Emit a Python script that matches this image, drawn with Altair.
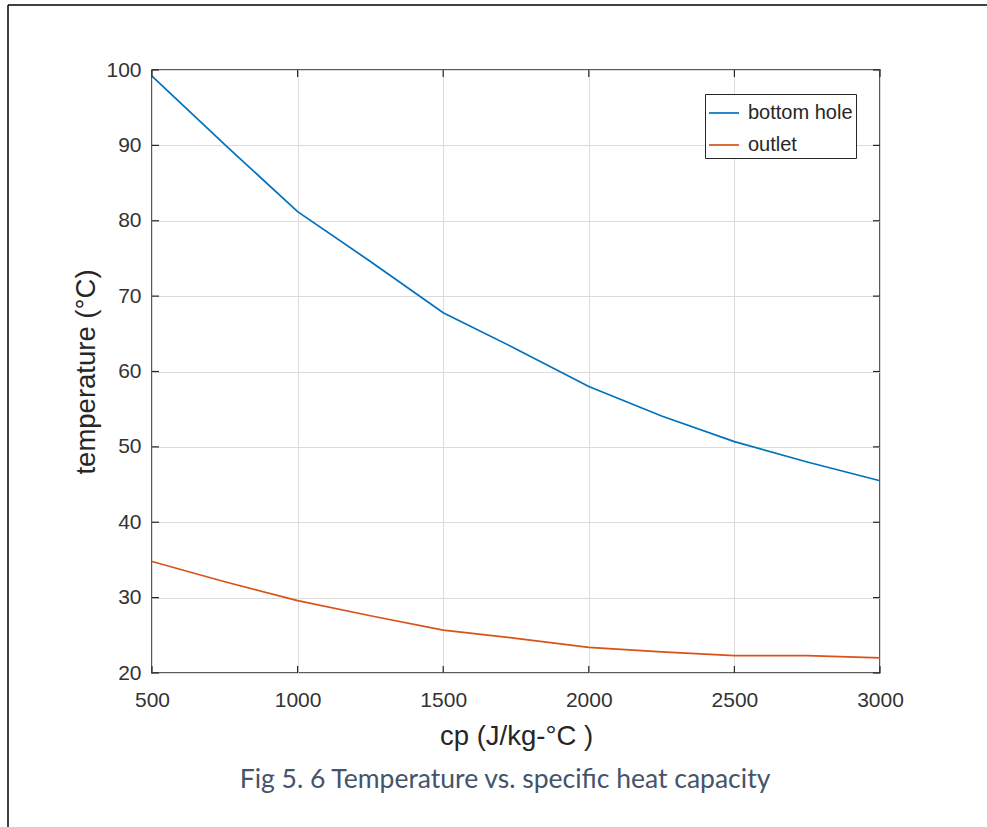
import altair as alt
import pandas as pd

# ---- data ----
cp = [500, 750, 1000, 1250, 1500, 1750, 2000, 2250, 2500, 2750, 3000]
bottom_hole = [99.2, 90.1, 81.2, 74.6, 67.8, 63.0, 58.0, 54.1, 50.7, 48.0, 45.5]
outlet = [34.8, 32.1, 29.6, 27.6, 25.7, 24.6, 23.4, 22.8, 22.3, 22.3, 22.0]
series_names = ["bottom hole", "outlet"]
series_colors = ["#0072BD", "#D95319"]
x_ticks = [500, 1000, 1500, 2000, 2500, 3000]
y_ticks = [20, 30, 40, 50, 60, 70, 80, 90, 100]
x_title = "cp (J/kg-°C )"
y_title = "temperature (°C)"
caption = "Fig 5. 6 Temperature vs. specific heat capacity"

W, H = 728, 603
AX = "#262626"
FONT = "Liberation Sans"

df = pd.DataFrame({
    "cp": cp * 2,
    "T": bottom_hole + outlet,
    "series": [series_names[0]] * len(cp) + [series_names[1]] * len(cp),
})
xt = pd.DataFrame({"cp": x_ticks})
yt = pd.DataFrame({"T": y_ticks})

xscale = alt.Scale(domain=[500, 3000], nice=False, zero=False)
yscale = alt.Scale(domain=[20, 100], nice=False, zero=False)
xaxis = alt.Axis(values=x_ticks, title=x_title, grid=True, tickSize=0, format="d",
                 labelFlush=False, labelPadding=16, titlePadding=12, domain=False)
yaxis = alt.Axis(values=y_ticks, title=y_title, grid=True, tickSize=0, format="d",
                 labelFlush=False, labelPadding=11, titlePadding=5, domain=False)
X = alt.X("cp:Q", scale=xscale, axis=xaxis)
Y = alt.Y("T:Q", scale=yscale, axis=yaxis)

lines = alt.Chart(df).mark_line(strokeWidth=1.7).encode(
    x=X, y=Y,
    color=alt.Color("series:N",
                    scale=alt.Scale(domain=series_names, range=series_colors),
                    legend=alt.Legend(title=None, orient="none", legendX=553, legendY=24,
                                      direction="vertical", strokeColor=AX, fillColor="white",
                                      padding=3, symbolType="stroke", symbolSize=900,
                                      symbolStrokeWidth=1.7, labelFontSize=20,
                                      labelFont=FONT, labelColor=AX, labelOffset=8,
                                      rowPadding=6)),
    order=alt.Order("cp:Q"),
)

tick_len = 7
xb = alt.Chart(xt).mark_rule(color=AX, strokeWidth=1.2).encode(
    x=X, y=alt.value(H), y2=alt.value(H - tick_len))
xtop = alt.Chart(xt).mark_rule(color=AX, strokeWidth=1.2).encode(
    x=X, y=alt.value(0), y2=alt.value(tick_len))
yl = alt.Chart(yt).mark_rule(color=AX, strokeWidth=1.2).encode(
    y=Y, x=alt.value(0), x2=alt.value(tick_len))
yr = alt.Chart(yt).mark_rule(color=AX, strokeWidth=1.2).encode(
    y=Y, x=alt.value(W), x2=alt.value(W - tick_len))

cap = alt.Chart(pd.DataFrame({"t": [caption]})).mark_text(
    font="Lato", fontSize=26.5, color="#44546A", align="center", baseline="middle"
).encode(text="t:N", x=alt.value(353), y=alt.value(710))

one = pd.DataFrame({"a": [0]})
border_l = alt.Chart(one).mark_rule(color="black", strokeWidth=1.5).encode(
    x=alt.value(-144), y=alt.value(-65), y2=alt.value(760))
border_t = alt.Chart(one).mark_rule(color="black", strokeWidth=1.5).encode(
    y=alt.value(-65), x=alt.value(-144), x2=alt.value(840))

chart = alt.layer(lines, xb, xtop, yl, yr, cap, border_l, border_t).properties(
    width=W, height=H,
    autosize=alt.AutoSizeParams(type="none"),
    padding={"left": 152, "top": 70, "right": 107, "bottom": 154},
    background="white",
).configure_view(
    stroke=AX, strokeWidth=1.5
).configure_axis(
    gridColor="#dcdcdc", gridWidth=1, gridOpacity=1,
    labelFont=FONT, labelFontSize=21, labelColor="#333333",
    titleFont=FONT, titleFontSize=27.5, titleColor=AX, titleFontWeight="normal",
)

chart.save("out.html", embed_options={"renderer": "svg", "actions": False})
